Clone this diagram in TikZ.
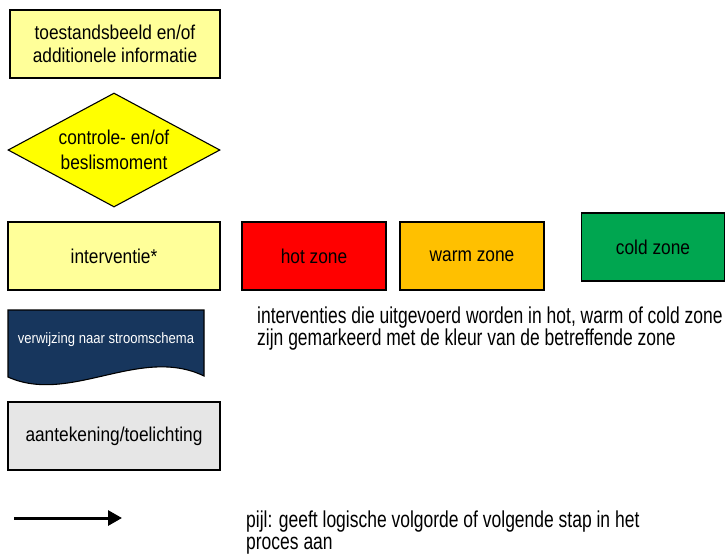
\documentclass[tikz,border=0pt]{standalone}
\usepackage{fontspec}
\setmainfont{Liberation Sans}
\newfontfamily\boxface[FakeStretch=0.865]{Liberation Sans}
\newfontfamily\noteface[FakeStretch=0.76]{Liberation Sans}
\newfontfamily\smallface[FakeStretch=0.87]{Liberation Sans}
\usetikzlibrary{shapes.geometric,arrows.meta}

\definecolor{paleyellow}{HTML}{FFFF99}
\definecolor{decisionyellow}{HTML}{FFFF00}
\definecolor{hotred}{HTML}{FF0000}
\definecolor{warmorange}{HTML}{FFC000}
\definecolor{coldgreen}{HTML}{00A650}
\definecolor{refnavy}{HTML}{17365D}
\definecolor{notegray}{HTML}{E6E6E6}

\newcommand{\boxtextfont}{\boxface\fontsize{20}{23.5}\selectfont}
\newcommand{\notetextfont}{\noteface\fontsize{23}{22.5}\selectfont}

\begin{document}
\begin{tikzpicture}[x=1pt,y=-1pt,
  legendbox/.style={draw=black, line width=1.1pt, inner sep=0pt, align=center,
    font=\boxtextfont, text=black},
  plaintext/.style={inner sep=0pt, align=left, anchor=west, font=\notetextfont, text=black},
  flowarrow/.style={line width=3pt, -{Triangle[length=14pt,width=15pt]}}
]
\useasboundingbox (0,0) rectangle (725,558);

% status / additional information
\node[legendbox, fill=paleyellow, minimum width=210pt, minimum height=68pt]
  (info) at (115,44) {toestandsbeeld en/of\\additionele informatie};

% decision point
\node[legendbox, shape=diamond, fill=decisionyellow, minimum width=212pt,
  minimum height=114pt] (decision) at (114,150) {};
\node[font=\boxface\fontsize{20}{24.5}\selectfont, align=center, inner sep=0pt]
  (decisiontext) at (114,150) {controle- en/of\\beslismoment};

% interventions and zones
\node[legendbox, fill=paleyellow, minimum width=212pt, minimum height=68pt]
  (intervention) at (114,256) {interventie*};
\node[legendbox, fill=hotred, minimum width=144pt, minimum height=68pt]
  (hot) at (314,256) {hot zone};
\node[legendbox, fill=warmorange, minimum width=144pt, minimum height=68pt]
  (warm) at (472,256) {warm zone};
\node[legendbox, fill=coldgreen, minimum width=143pt, minimum height=68pt]
  (cold) at (653,247) {cold zone};

\node[plaintext] (zonenote) at (257,328.5)
  {interventies die uitgevoerd worden in hot, warm of cold zone\\
   zijn gemarkeerd met de kleur van de betreffende zone};

% reference to another flow chart (document shape)
\coordinate (doctl) at (8,310);
\coordinate (doctr) at (204,310);
\coordinate (docbr) at (204,376);
\coordinate (docbl) at (8,377);
\draw[line width=1.1pt, fill=refnavy]
  (doctl) -- (doctr) -- (docbr)
  .. controls (140,345) and (70,405) .. (docbl) -- cycle;
\node[text=white, font=\smallface\fontsize{15}{17}\selectfont, inner sep=0pt]
  (reference) at (106,340) {verwijzing naar stroomschema};

% note
\node[legendbox, fill=notegray, minimum width=212pt, minimum height=68pt]
  (note) at (114,436) {aantekening/toelichting};

% arrow
\coordinate (arrowstart) at (14,518);
\coordinate (arrowend) at (122,518);
\draw[flowarrow] (arrowstart) -- (arrowend);

\node[plaintext] (arrownote) at (246,532.5)
  {pijl: geeft logische volgorde of volgende stap in het\\proces aan};
\end{tikzpicture}
\end{document}
